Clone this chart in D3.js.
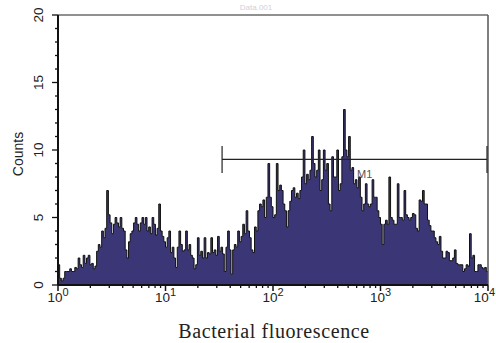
<!DOCTYPE html>
<html>
<head>
<meta charset="utf-8">
<script src="https://cdn.jsdelivr.net/npm/d3@7"></script>
<style>
  html, body { margin: 0; padding: 0; background: #fff; }
  svg { display: block; }
</style>
</head>
<body>
<svg id="chart" width="496" height="343"></svg>
<script>
// Histogram of 256 log-spaced channels covering four decades
const channelCounts = [
  1.5, 0.5, 0.3,  0.5, 1, 1,  1, 1.2, 1,  1, 1.3, 1.2,
  2, 1.5, 1.3,  2.2, 1.6, 2,  2.2, 1.5, 1.6,  1.2, 1.4, 2.5,
  3, 2.8, 4,  3.5, 4.2, 7,  5.2, 4.6, 3.8,  4.5, 5, 4.6,
  4.3, 5, 4.2,  4, 2.6, 2,  3.2, 3.8, 4,  4.6, 5, 4.5,
  4, 4.6, 5,  4.5, 5, 4,  4.3, 3.8, 5,  4.5, 3.7, 4.2,
  6, 4, 3.6,  3.2, 2.8, 3.5,  4, 2.4, 2.8,  2, 1.3, 2.8,
  4, 3, 2.5,  2.6, 4, 2.6,  3, 2.2, 2,  1.2, 1.5, 3.5,
  2.2, 2.5, 2,  3.5, 2, 2.4,  2.3, 3.5, 2.4,  2.6, 2.2, 3.6,
  2.5, 2.8, 2.3,  1, 2.8, 4,  2.6, 0.8, 2.6,  3, 2.8, 4,
  3.2, 3.6, 4.5,  3.8, 5.5, 4,  3.5, 2.6, 2.4,  4.3, 4, 5.5,
  6, 5.8, 6.3,  5, 6.5, 9,  6.5, 5.8, 5,  5.2, 9, 7,
  7.4, 7, 6,  5.5, 4.3, 5.5,  6.2, 7, 7.2,  6.5, 6.8, 6.4,
  7, 8, 10,  7.5, 8.2, 7.8,  8.5, 11, 9,  8, 8.5, 10,
  7, 7.8, 10,  8.5, 9, 6,  5.5, 9.5, 8,  8, 10, 7,
  7.5, 9.5, 13,  10, 9.5, 11,  8.5, 8.7, 7.5,  7.8, 7.2, 8,
  6.5, 5.5, 6,  7.5, 6, 5.8,  6, 7.8, 6.5,  6.5, 5.5, 5,
  4.5, 3, 4.5,  4.8, 4.5, 8,  5, 4.8, 4.5,  4.5, 7.5, 5,
  5, 4.8, 7,  5.2, 5, 4.8,  5, 5.3, 5.2,  4.2, 4, 6.3,
  6.2, 7, 6,  6, 4.8, 4.4,  4, 4, 3.5,  3.2, 3, 3.6,
  2.5, 2, 2,  2.5, 2.4, 1.8,  1.8, 2, 2.6,  1.6, 1.5, 1.5,
  1.5, 1, 1.2,  1.5, 1.4, 3.8,  2, 2.2, 1,  1, 1.5, 1.5,
  1.3, 1.2, 1.3, 1
];

const yTickValues = [0, 5, 10, 15, 20];
const xDecades = [0, 1, 2, 3, 4];

// Marker region M1
const markerName = "M1";
const markerFrom = 33.6;
const markerTo = 10000;
const markerLevel = 9.3;

const titleText = "Data.001";
const xTitle = "Bacterial fluorescence";
const yTitle = "Counts";

const svg = d3.select("#chart");
const plotL = 58, plotR = 488, plotT = 15, plotB = 285;

const x = d3.scaleLog().domain([1, 10000]).range([plotL, plotR]);
const y = d3.scaleLinear().domain([0, 20]).range([plotB, plotT]);

const nCh = channelCounts.length;
const perDecade = nCh / 4;
// Step points: each channel starts at its lower edge
const pts = channelCounts.map((v, i) => ({ lo: Math.pow(10, i / perDecade), v }));
pts.push({ lo: 10000, v: channelCounts[nCh - 1] });

const area = d3.area()
  .x(d => x(d.lo))
  .y0(y(0))
  .y1(d => y(d.v))
  .curve(d3.curveStepAfter);
const line = d3.line()
  .x(d => x(d.lo))
  .y(d => y(d.v))
  .curve(d3.curveStepAfter);

svg.append("path")
  .datum(pts)
  .attr("d", area)
  .attr("fill", "#3b3676");

svg.append("path")
  .datum(pts)
  .attr("d", line)
  .attr("fill", "none")
  .attr("stroke", "#111")
  .attr("stroke-width", 1);

// Frame
svg.append("line").attr("x1", plotL).attr("x2", plotR).attr("y1", plotT).attr("y2", plotT)
  .attr("stroke", "#222").attr("stroke-width", 1.2);
svg.append("line").attr("x1", plotR).attr("x2", plotR).attr("y1", plotT).attr("y2", plotB)
  .attr("stroke", "#555").attr("stroke-width", 1.5);

// Y axis with minor ticks at every count
const yMinor = d3.range(0, 21);
const yAxis = svg.append("g").attr("transform", `translate(${plotL},0)`);
yAxis.append("line").attr("x1", 0).attr("x2", 0).attr("y1", plotT).attr("y2", plotB)
  .attr("stroke", "#111").attr("stroke-width", 2);
yAxis.selectAll("line.minor").data(yMinor).enter().append("line")
  .attr("class", "minor")
  .attr("x1", d => yTickValues.includes(d) ? -6 : -3).attr("x2", 0)
  .attr("y1", d => y(d)).attr("y2", d => y(d))
  .attr("stroke", "#111").attr("stroke-width", 1.3);
yAxis.selectAll("text").data(yTickValues).enter().append("text")
  .attr("transform", d => `translate(-15,${y(d)}) rotate(-90)`)
  .attr("text-anchor", "middle")
  .attr("font-family", "Liberation Sans, Arial, sans-serif")
  .attr("font-size", 13.5)
  .attr("fill", "#222")
  .text(d => d);

// X axis with log minor ticks
const xAxis = svg.append("g").attr("transform", `translate(0,${plotB})`);
xAxis.append("line").attr("x1", plotL).attr("x2", plotR).attr("y1", 0).attr("y2", 0)
  .attr("stroke", "#111").attr("stroke-width", 2);
const xMinor = [];
for (let k = 0; k < 4; k++) for (let m = 2; m <= 9; m++) xMinor.push(m * Math.pow(10, k));
xAxis.selectAll("line.minor").data(xMinor).enter().append("line")
  .attr("x1", d => x(d)).attr("x2", d => x(d)).attr("y1", 0).attr("y2", 3)
  .attr("stroke", "#111").attr("stroke-width", 1.3);
xAxis.selectAll("line.major").data(xDecades).enter().append("line")
  .attr("x1", d => x(Math.pow(10, d))).attr("x2", d => x(Math.pow(10, d)))
  .attr("y1", 0).attr("y2", 6)
  .attr("stroke", "#111").attr("stroke-width", 1.5);
const lastDecade = xDecades[xDecades.length - 1];
const xl = xAxis.selectAll("text").data(xDecades).enter().append("text")
  .attr("x", d => d === lastDecade ? 495 : x(Math.pow(10, d)))
  .attr("y", 17)
  .attr("text-anchor", d => d === lastDecade ? "end" : "middle")
  .attr("font-family", "Liberation Sans, Arial, sans-serif")
  .attr("font-size", 13.5)
  .attr("fill", "#222");
xl.append("tspan").text("10");
xl.append("tspan").attr("dy", -6).attr("font-size", 11).text(d => d);

// Axis titles
svg.append("text")
  .attr("x", 274).attr("y", 338)
  .attr("text-anchor", "middle")
  .attr("font-family", "Liberation Serif, Times New Roman, serif")
  .attr("font-size", 20)
  .attr("letter-spacing", 0.6)
  .attr("fill", "#222")
  .text(xTitle);
svg.append("text")
  .attr("transform", "translate(23,154) rotate(-90)")
  .attr("text-anchor", "middle")
  .attr("font-family", "Liberation Sans, Arial, sans-serif")
  .attr("font-size", 14)
  .attr("fill", "#222")
  .text(yTitle);

// Faint title above the plot
svg.append("text")
  .attr("x", 256).attr("y", 10)
  .attr("text-anchor", "middle")
  .attr("font-family", "Liberation Sans, Arial, sans-serif")
  .attr("font-size", 8)
  .attr("fill", "#d0d0da")
  .text(titleText);

// Marker bar
const mg = svg.append("g");
mg.append("line")
  .attr("x1", x(markerFrom)).attr("x2", x(markerTo) - 1)
  .attr("y1", y(markerLevel)).attr("y2", y(markerLevel))
  .attr("stroke", "#222").attr("stroke-width", 1.2);
[markerFrom, markerTo].forEach((v, i) => {
  const px = i === 0 ? x(v) : x(v) - 1;
  mg.append("line")
    .attr("x1", px).attr("x2", px)
    .attr("y1", y(markerLevel + 1)).attr("y2", y(markerLevel - 1))
    .attr("stroke", "#222").attr("stroke-width", 1.2);
});
mg.append("text")
  .attr("x", 357).attr("y", 178)
  .attr("font-family", "Liberation Sans, Arial, sans-serif")
  .attr("font-size", 11)
  .attr("fill", "#555")
  .text(markerName);
</script>
</body>
</html>
